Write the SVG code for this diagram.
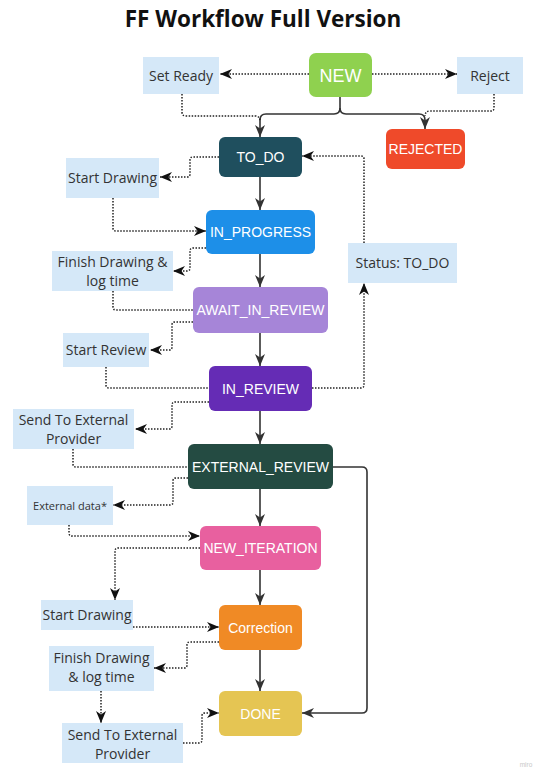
<svg xmlns="http://www.w3.org/2000/svg" width="545" height="772" viewBox="0 0 545 772">
<style>
.nt{font-family:"Liberation Sans",Arial,sans-serif;font-size:14px;fill:#ffffff;text-anchor:middle}
.bx{fill:#d5e8f8}
.bt{font-family:"Open Sans","Noto Sans",sans-serif;font-size:14px;fill:#333333;text-anchor:middle}
.sol{fill:none;stroke:#333333;stroke-width:1.6;marker-end:url(#ah)}
.dot{fill:none;stroke:#222222;stroke-width:1.5;stroke-dasharray:1.5 1.5}
.dta{marker-end:url(#ah2)}
</style>
<defs>
<marker id="ah" viewBox="0 0 12 12" refX="12" refY="6" markerWidth="12" markerHeight="12" markerUnits="userSpaceOnUse" orient="auto">
<path d="M0,1 L12,6 L0,11 L3.5,6 z" fill="#333333"/>
</marker>
<marker id="ah2" viewBox="0 0 12 12" refX="12" refY="6" markerWidth="12" markerHeight="12" markerUnits="userSpaceOnUse" orient="auto">
<path d="M0,1 L12,6 L0,11 L3.5,6 z" fill="#111111"/>
</marker>
</defs>
<rect width="545" height="772" fill="#ffffff"/>
<text x="263" y="27" font-family="'Open Sans','Noto Sans',sans-serif" font-weight="bold" font-size="22.5" text-anchor="middle" fill="#111111">FF Workflow Full Version</text>

<g id="connectors">
<path class="sol" d="M340,97 V108 Q340,114 334,114 H266 Q260,114 260,120 V137"/>
<path class="sol" d="M340,108 Q340,114 346,114 H419 Q425,114 425,120 V129"/>
<path class="dot" d="M182,94 V112 Q182,116 186,116 H255 Q260,116 260,121"/>
<path class="dot" d="M494,94 V108 Q494,111 491,111 H430 Q425,111 425,116"/>
<path class="dot dta" d="M309,74 H220"/>
<path class="dot dta" d="M372,74 H457"/>
<path class="dot dta" d="M219,157 H193 Q190,157 190,160 V174 Q190,177 187,177 H160"/>
<path class="dot dta" d="M113,198 V228 Q113,231 116,231 H206"/>
<path class="dot dta" d="M206,248 H193 Q190,248 190,251 V268 Q190,271 187,271 H173"/>
<path class="dot" d="M113,291 V307 Q113,310 116,310 H193"/>
<path class="dot dta" d="M193,322 H175 Q172,322 172,325 V347 Q172,350 169,350 H150"/>
<path class="dot" d="M106,367 V385 Q106,388 109,388 H209"/>
<path class="dot dta" d="M312,388 H361 Q364,388 364,385 V283"/>
<path class="dot dta" d="M364,243 V159 Q364,156 361,156 H302"/>
<path class="dot dta" d="M209,402 H175 Q172,402 172,405 V426 Q172,429 169,429 H135"/>
<path class="dot" d="M73,449 V464 Q73,467 76,467 H188"/>
<path class="dot dta" d="M188,478 H176 Q173,478 173,481 V502 Q173,505 170,505 H113"/>
<path class="dot dta" d="M69,525 V533 Q69,536 72,536 H200"/>
<path class="dot dta" d="M200,548 H118 Q115,548 115,551 V600"/>
<path class="dot dta" d="M133,627 H219"/>
<path class="dot dta" d="M219,642 H190 Q187,642 187,645 V665 Q187,668 184,668 H154"/>
<path class="dot dta" d="M101,691 V723"/>
<path class="dot dta" d="M183,743 H199 Q202,743 202,740 V716 Q202,713 205,713 H219"/>
<path class="sol" d="M333,467 H362 Q367,467 367,472 V708 Q367,713 362,713 H302"/>
<path class="sol" d="M260,177 V210"/>
<path class="sol" d="M260,254 V287"/>
<path class="sol" d="M260,333 V366"/>
<path class="sol" d="M260,411 V444"/>
<path class="sol" d="M260,489 V526"/>
<path class="sol" d="M260,570 V605"/>
<path class="sol" d="M260,650 V691"/>
</g>

<g id="NEW"><rect x="309" y="53" width="63" height="44" rx="7" fill="#8fd14f"/><text class="nt" x="340.5" y="81.5" style="font-size:18px">NEW</text></g>
<g id="TO_DO"><rect x="219" y="137" width="83" height="40" rx="6" fill="#1f4f5e"/><text class="nt" x="260.5" y="162">TO_DO</text></g>
<g id="REJECTED"><rect x="386" y="129" width="79" height="40" rx="6" fill="#ef4a2a"/><text class="nt" x="425.5" y="154">REJECTED</text></g>
<g id="IN_PROGRESS"><rect x="206" y="210" width="109" height="44" rx="6" fill="#1d8fe8"/><text class="nt" x="260.5" y="237">IN_PROGRESS</text></g>
<g id="AWAIT_IN_REVIEW"><rect x="193" y="287" width="135" height="46" rx="6" fill="#a685d8"/><text class="nt" x="260.5" y="315">AWAIT_IN_REVIEW</text></g>
<g id="IN_REVIEW"><rect x="209" y="366" width="103" height="45" rx="6" fill="#652cb5"/><text class="nt" x="260.5" y="393.5">IN_REVIEW</text></g>
<g id="EXTERNAL_REVIEW"><rect x="188" y="444" width="145" height="45" rx="6" fill="#244b42"/><text class="nt" x="260.5" y="471.5">EXTERNAL_REVIEW</text></g>
<g id="NEW_ITERATION"><rect x="200" y="526" width="121" height="44" rx="6" fill="#e8609f"/><text class="nt" x="260.5" y="553">NEW_ITERATION</text></g>
<g id="Correction"><rect x="219" y="605" width="83" height="45" rx="6" fill="#f08a25"/><text class="nt" x="260.5" y="632.5">Correction</text></g>
<g id="DONE"><rect x="219" y="691" width="83" height="45" rx="6" fill="#e5c553"/><text class="nt" x="260.5" y="718.5">DONE</text></g>

<g id="SetReady"><rect class="bx" x="143" y="57" width="76" height="37"/><text class="bt" x="181" y="80.5">Set Ready</text></g>
<g id="Reject"><rect class="bx" x="457" y="57" width="66" height="37"/><text class="bt" x="490" y="80.5">Reject</text></g>
<g id="StartDrawing1"><rect class="bx" x="66" y="158" width="93" height="40"/><text class="bt" x="112.5" y="183">Start Drawing</text></g>
<g id="FinishDrawing1"><rect class="bx" x="52" y="251" width="121" height="40"/><text class="bt" x="112.5" y="267">Finish Drawing &amp;</text><text class="bt" x="112.5" y="286">log time</text></g>
<g id="StatusToDo"><rect class="bx" x="348" y="243" width="109" height="40"/><text class="bt" x="402.5" y="268">Status: TO_DO</text></g>
<g id="StartReview"><rect class="bx" x="63" y="333" width="86" height="34"/><text class="bt" x="106" y="355">Start Review</text></g>
<g id="SendExternal1"><rect class="bx" x="13" y="409" width="121" height="40"/><text class="bt" x="73.5" y="424.5">Send To External</text><text class="bt" x="73.5" y="443.5">Provider</text></g>
<g id="ExternalData"><rect class="bx" x="27" y="486" width="86" height="39"/><text class="bt" x="70" y="509.5" style="font-size:11px">External data*</text></g>
<g id="StartDrawing2"><rect class="bx" x="41" y="600" width="92" height="30"/><text class="bt" x="87" y="620">Start Drawing</text></g>
<g id="FinishDrawing2"><rect class="bx" x="49" y="646" width="105" height="45"/><text class="bt" x="101.5" y="662.5">Finish Drawing</text><text class="bt" x="101.5" y="682">&amp; log time</text></g>
<g id="SendExternal2"><rect class="bx" x="62" y="723" width="121" height="40"/><text class="bt" x="122.5" y="739.5">Send To External</text><text class="bt" x="122.5" y="758.5">Provider</text></g>

<text x="526" y="767" font-family="'Liberation Sans',Arial,sans-serif" font-size="6.5" fill="#c8c8c8" text-anchor="middle">miro</text>
</svg>
